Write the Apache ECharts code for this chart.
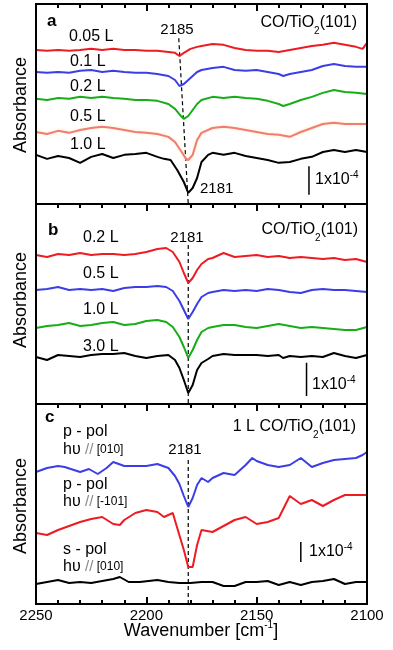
<!DOCTYPE html>
<html><head><meta charset="utf-8">
<script src="https://cdn.jsdelivr.net/npm/echarts@6/dist/echarts.min.js"></script>
<style>html,body{margin:0;padding:0;background:#fff}#c{width:393px;height:650px;position:absolute;left:0;top:0}#o{width:393px;height:650px;position:absolute;left:0;top:0;pointer-events:none}</style>
</head><body><div id="c"></div><div id="o"></div>
<script>
// Wavenumber axis (cm^-1), reversed
const wnMin = 2100, wnMax = 2250, wnStep = 50;

// Panel a : CO/TiO2(101) dose series (absorbance, units 1e-5, vertically offset)
const a_005L = [[2250,53.9],[2245,53.6],[2240,53.9],[2235,53.6],[2230,53.9],[2225,54.3],[2220,53.9],[2215,54.3],[2210,53.9],[2205,53.9],[2200,53.6],[2195,53.6],[2190,53.2],[2187,52.9],[2185,51.8],[2183,52.9],[2180,54.3],[2177,55.0],[2175,55.3],[2170,56.0],[2165,55.7],[2160,54.6],[2155,53.9],[2150,53.6],[2145,53.6],[2140,53.2],[2135,53.9],[2130,54.6],[2125,55.3],[2120,55.7],[2115,56.4],[2110,55.7],[2105,55.0],[2102,54.3],[2100,56.4]];
const a_01L = [[2250,46.2],[2245,45.9],[2240,46.2],[2235,45.9],[2230,46.6],[2225,46.9],[2220,46.2],[2215,46.6],[2210,46.2],[2205,45.9],[2200,45.9],[2195,45.5],[2190,44.8],[2187,43.4],[2185,41.3],[2183,42.0],[2180,44.1],[2177,46.2],[2175,46.9],[2170,47.6],[2165,48.0],[2160,46.9],[2155,46.6],[2150,46.9],[2145,46.2],[2140,45.5],[2138,44.8],[2135,45.5],[2130,46.2],[2125,46.9],[2120,48.3],[2115,49.0],[2110,48.3],[2105,48.0],[2100,48.0]];
const a_02L = [[2250,36.8],[2245,36.4],[2240,37.1],[2235,36.8],[2230,37.5],[2225,37.1],[2220,37.5],[2215,37.1],[2210,36.8],[2205,36.4],[2200,36.4],[2195,36.1],[2190,35.0],[2187,33.3],[2184,30.5],[2183,29.8],[2181,30.8],[2179,32.9],[2177,35.0],[2175,36.4],[2170,37.5],[2165,37.1],[2160,37.5],[2155,37.1],[2150,36.8],[2145,36.1],[2140,35.0],[2138,34.3],[2135,35.0],[2130,36.4],[2125,37.5],[2120,38.9],[2115,39.9],[2110,39.2],[2105,38.9],[2100,38.5]];
const a_05L = [[2250,25.2],[2245,24.5],[2240,25.6],[2235,24.9],[2230,25.9],[2225,26.6],[2220,27.0],[2215,26.6],[2210,25.9],[2205,25.2],[2200,24.9],[2195,24.5],[2190,23.5],[2187,21.7],[2184,18.2],[2182,15.8],[2181,15.4],[2179,17.2],[2177,22.4],[2175,24.9],[2170,26.6],[2165,27.0],[2160,26.6],[2155,25.9],[2150,25.2],[2145,24.5],[2140,24.2],[2135,23.5],[2130,25.2],[2125,26.6],[2120,28.0],[2115,28.4],[2110,28.0],[2105,28.0],[2100,28.0]];
const a_10L = [[2250,17.2],[2245,15.8],[2240,16.8],[2235,16.1],[2230,14.4],[2225,16.5],[2220,17.5],[2215,16.1],[2210,17.2],[2205,17.5],[2200,17.9],[2195,16.5],[2192,15.8],[2189,15.4],[2186,11.9],[2183,7.7],[2181,3.9],[2179,5.6],[2177,9.1],[2175,14.7],[2172,17.2],[2170,17.9],[2165,17.2],[2160,17.9],[2155,16.8],[2150,16.1],[2145,15.4],[2140,14.4],[2135,14.7],[2130,15.8],[2125,16.5],[2120,18.2],[2115,18.9],[2110,18.2],[2105,18.9],[2100,18.2]];

// Panel b
const b_02L = [[2250,44.7],[2245,44.1],[2240,45.0],[2235,44.7],[2230,45.3],[2225,44.7],[2220,45.0],[2215,45.0],[2210,44.7],[2205,45.0],[2200,45.6],[2195,46.5],[2191,46.8],[2188,45.6],[2185,42.6],[2183,39.3],[2181,36.3],[2179,37.8],[2177,40.2],[2175,42.0],[2172,43.5],[2170,43.8],[2167,44.7],[2165,45.3],[2160,44.1],[2155,44.4],[2150,44.7],[2145,44.1],[2140,44.4],[2135,43.8],[2130,44.1],[2125,43.8],[2120,43.5],[2115,43.8],[2110,43.2],[2105,43.5],[2100,42.6]];
const b_05L = [[2250,34.2],[2245,34.5],[2240,35.1],[2235,34.2],[2230,34.5],[2225,34.2],[2220,34.5],[2215,33.9],[2210,34.8],[2205,35.1],[2200,35.1],[2195,35.4],[2191,35.1],[2188,33.9],[2185,30.9],[2183,28.2],[2181,25.5],[2179,27.6],[2177,30.0],[2175,32.1],[2172,33.3],[2170,33.6],[2165,34.2],[2160,33.9],[2155,34.2],[2150,33.9],[2145,34.5],[2140,34.2],[2135,33.6],[2130,33.3],[2125,34.2],[2120,34.5],[2115,34.2],[2110,34.2],[2105,33.9],[2100,33.6]];
const b_10L = [[2250,22.8],[2245,23.4],[2240,23.7],[2235,24.3],[2230,23.4],[2225,23.7],[2220,24.3],[2215,24.6],[2210,23.7],[2205,24.0],[2200,24.9],[2195,25.2],[2191,24.6],[2188,23.1],[2185,20.1],[2183,17.1],[2181,13.8],[2179,16.2],[2177,19.2],[2175,21.6],[2172,22.8],[2170,23.1],[2165,23.7],[2160,23.7],[2155,23.1],[2150,22.8],[2145,23.4],[2140,24.0],[2135,23.4],[2130,22.8],[2125,23.1],[2120,22.8],[2115,22.5],[2110,22.2],[2105,22.2],[2100,23.1]];
const b_30L = [[2250,14.1],[2245,13.2],[2240,14.7],[2235,14.4],[2230,14.1],[2225,14.7],[2220,15.0],[2215,15.0],[2210,15.3],[2205,14.4],[2200,13.8],[2195,14.4],[2190,14.7],[2187,13.2],[2185,10.8],[2183,7.2],[2181,3.3],[2179,5.7],[2177,10.2],[2175,12.3],[2172,13.5],[2170,14.4],[2165,15.0],[2160,14.7],[2155,14.7],[2150,14.7],[2145,14.4],[2140,14.7],[2138,13.8],[2135,14.4],[2130,14.1],[2125,14.4],[2120,14.1],[2115,15.3],[2110,14.4],[2105,13.8],[2100,14.7]];

// Panel c : 1 L CO, polarisation dependence
const c_p010 = [[2250,66],[2245,68],[2240,69],[2237,68.5],[2230,66],[2226,67.5],[2222,65],[2218,68],[2215,71],[2210,69],[2205,69],[2200,69],[2195,70],[2190,68],[2187,64],[2185,60],[2183,54],[2181,48.5],[2179,53],[2177,59.5],[2175,63],[2172,61],[2170,63],[2165,65.5],[2160,64.5],[2155,69.5],[2152,73],[2150,71.5],[2145,69.5],[2140,68.5],[2135,69.5],[2130,73],[2125,68.5],[2120,70.5],[2115,72],[2110,72.5],[2105,73],[2102,74.5],[2100,76]];
const c_p101 = [[2250,35.5],[2245,34.5],[2240,37],[2235,39],[2230,41],[2225,42.5],[2220,43.5],[2215,40],[2212,39.5],[2210,42],[2205,45.5],[2200,47],[2195,46],[2192,43.5],[2188,45.5],[2186,38],[2183,27],[2181,18.5],[2179,18.5],[2177,29.5],[2175,37],[2170,36],[2165,39],[2160,42],[2155,43.5],[2150,40],[2145,41],[2140,43],[2135,54],[2130,50],[2125,52],[2120,49],[2115,52],[2110,54.5],[2105,54.5],[2100,54.5]];
const c_s010 = [[2250,10],[2245,11],[2240,12],[2235,10.5],[2230,11],[2225,10.5],[2220,11.5],[2215,12.5],[2212,13.5],[2208,11],[2203,11],[2195,12],[2190,11],[2185,10.5],[2180,10.5],[2175,11],[2170,11],[2165,9],[2160,9],[2155,11],[2150,11],[2145,11.5],[2140,9.5],[2135,11],[2130,9.5],[2125,11],[2120,11.5],[2115,12.5],[2110,10],[2105,11],[2100,11]];

// Peak markers (dashed) and 1x10^-4 scale bars (10 units)
const peakA = [[2185.3,58],[2181,0]];
const peakB = [[2181,47.7],[2181,0]];
const peakC = [[2181,72],[2181,0]];
const barA = [[2126.3,3.2],[2126.3,13.2]];
const barB = [[2127.4,2.4],[2127.4,12.4]];
const barC = [[2130,21],[2130,31]];
const yMax = [70, 60, 100];

const FF = '"Liberation Sans", Arial, sans-serif';
const RED = '#ef1b22', BLUE = '#3b3ee6', GREEN = '#17ad17', PINK = '#f27a78', BLACK = '#000';

function makeGrids() {
  return [0,1,2].map(i => ({left: 36, top: 4 + i*200, width: 331, height: 200, outerBoundsMode: 'none',
    show: true, borderColor: '#000', borderWidth: 2}));
}
function xAx(gi, pos, labels) {
  return {type: 'value', gridIndex: gi, position: pos, min: wnMin, max: wnMax, interval: wnStep, inverse: true,
    axisLine: {show: true, onZero: false, lineStyle: {color: '#000', width: 2}}, splitLine: {show: false},
    axisTick: {show: true, inside: true, length: 7, lineStyle: {color: '#000', width: 2}},
    minorTick: {show: true, splitNumber: 5, length: 4, lineStyle: {color: '#000', width: 2}},
    axisLabel: labels ? {show: true, color: '#000', fontSize: 15, fontFamily: FF, margin: 4, formatter: v => String(v)}
                      : {show: false}
  };
}
function makeX(withLabels) { return [xAx(0,'top',false), xAx(1,'top',false), xAx(2,'top',false), xAx(2,'bottom',withLabels)]; }
function makeY() { return [0,1,2].map(i => ({type: 'value', gridIndex: i, min: 0, max: yMax[i],
  axisLine: {show: false}, axisTick: {show: false}, axisLabel: {show: false}, splitLine: {show: false}})); }

function trace(data, xi, yi, color, glow) {
  const ls = {color: color, width: 2};
  if (glow) { ls.shadowColor = 'rgba(250,235,170,0.9)'; ls.shadowBlur = 3; }
  return {type: 'line', xAxisIndex: xi, yAxisIndex: yi, data: data, symbol: 'none', smooth: false,
    lineStyle: ls, itemStyle: {color: color}, silent: true, animation: false, z: 3};
}
function dash(data, xi, yi) {
  return {type: 'line', xAxisIndex: xi, yAxisIndex: yi, data: data, symbol: 'none',
    lineStyle: {color: '#000', width: 1.2, type: [4,3]}, silent: true, animation: false, z: 2};
}
function bar(data, xi, yi) {
  return {type: 'line', xAxisIndex: xi, yAxisIndex: yi, data: data, symbol: 'none',
    lineStyle: {color: '#000', width: 1.5}, silent: true, animation: false, z: 2};
}

const series = [
  dash(peakA,0,0), bar(barA,0,0),
  trace(a_005L,0,0,RED), trace(a_01L,0,0,BLUE), trace(a_02L,0,0,GREEN), trace(a_05L,0,0,PINK,true), trace(a_10L,0,0,BLACK),
  dash(peakB,1,1), bar(barB,1,1),
  trace(b_02L,1,1,RED), trace(b_05L,1,1,BLUE), trace(b_10L,1,1,GREEN), trace(b_30L,1,1,BLACK),
  dash(peakC,3,2), bar(barC,3,2),
  trace(c_p010,3,2,BLUE), trace(c_p101,3,2,RED), trace(c_s010,3,2,BLACK)
];

const richSS = {
  n: {fontSize: 16, fontFamily: FF, fill: '#000', lineHeight: 20},
  t: {fontSize: 18, fontFamily: FF, fill: '#000', lineHeight: 22},
  sub: {fontSize: 10, fontFamily: FF, fill: '#000', verticalAlign: 'bottom', lineHeight: 20, padding: [0,0,-3,0]},
  sup: {fontSize: 10, fontFamily: FF, fill: '#000', verticalAlign: 'top', lineHeight: 20},
  g: {fontSize: 15, fontFamily: FF, fill: '#888', lineHeight: 20},
  s: {fontSize: 12, fontFamily: FF, fill: '#000', lineHeight: 20}
};
function T(x, y, text, opt) {
  opt = opt || {};
  return {type: 'text', x: x, y: y, rotation: opt.rot || 0, silent: true, z: 10, style: {
    text: text, fill: '#000', fontFamily: FF, fontSize: opt.fs || 16, fontWeight: opt.bold ? 'bold' : 'normal',
    align: opt.align || 'left', verticalAlign: 'middle', rich: richSS}};
}
const texts = [
  // axis titles
  T(21,105,'Absorbance',{align:'center',fs:18,rot:Math.PI/2}),
  T(21,300,'Absorbance',{align:'center',fs:18,rot:Math.PI/2}),
  T(21,506,'Absorbance',{align:'center',fs:18,rot:Math.PI/2}),
  T(201,631,'{t|Wavenumber [cm}{sup|-1}{t|]}',{align:'center',fs:18}),
  // panel a
  T(47,21,'a',{bold:true,fs:17}),
  T(177,30,'2185',{align:'center',fs:15}),
  T(357,23,'{n|CO/TiO}{sub|2}{n|(101)}',{align:'right'}),
  T(69,37,'0.05 L'), T(70,62,'0.1 L'), T(70,87,'0.2 L'), T(70,117,'0.5 L'), T(70,145,'1.0 L'),
  T(200,189,'2181',{fs:15}),
  T(315,180,'{n|1x10}{sup|-4}',{fs:15}),
  // panel b
  T(48,230,'b',{bold:true,fs:17}),
  T(187,238,'2181',{align:'center',fs:15}),
  T(358,230,'{n|CO/TiO}{sub|2}{n|(101)}',{align:'right'}),
  T(83,238,'0.2 L'), T(83,274,'0.5 L'), T(83,310,'1.0 L'), T(83,347,'3.0 L'),
  T(312,385,'{n|1x10}{sup|-4}',{fs:15}),
  // panel c
  T(45,417,'c',{bold:true,fs:17}),
  T(356,427,'{n|1 L CO/TiO}{sub|2}{n|(101)}',{align:'right'}),
  T(185,450,'2181',{align:'center',fs:15}),
  T(63,432,'p - pol'), T(63,450,'{n|hυ }{g|//}{s| [010]}'),
  T(63,485,'p - pol'), T(63,502,'{n|hυ }{g|//}{s| [-101]}'),
  T(63,550,'s - pol'), T(63,567,'{n|hυ }{g|//}{s| [010]}'),
  T(309,552,'{n|1x10}{sup|-4}',{fs:15})
];

// overlay first: axes only (tick marks), transparent, on top of the main chart
try {
  const overlay = echarts.init(document.getElementById('o'), null, {renderer: 'canvas'});
  overlay.setOption({
    animation: false,
    grid: makeGrids(), xAxis: makeX(false), yAxis: makeY(),
    series: [{type: 'line', xAxisIndex: 0, yAxisIndex: 0, data: a_10L, symbol: 'none', lineStyle: {opacity: 0}, silent: true}]
  });
} catch (e) {}

// main chart: frames, spectra, annotations
try {
  const chart = echarts.init(document.getElementById('c'), null, {renderer: 'canvas'});
  chart.setOption({
    animation: false,
    backgroundColor: '#fff',
    grid: makeGrids(), xAxis: makeX(true), yAxis: makeY(), series: series
  });
  chart.setOption({graphic: texts});
} catch (e) {}
</script></body></html>
